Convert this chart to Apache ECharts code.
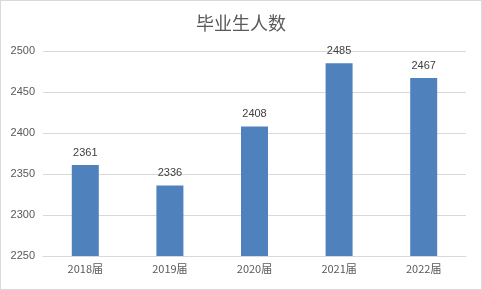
<!DOCTYPE html>
<html><head><meta charset="utf-8">
<script src="https://cdn.jsdelivr.net/npm/echarts@6/dist/echarts.min.js"></script>
<style>html,body{margin:0;padding:0;background:#fff}#c{width:482px;height:290px;box-sizing:border-box;border:1px solid #d9d9d9}</style>
</head><body><div id="c"></div>
<script>
const title = "毕业生人数";
const categories = ["2018届","2019届","2020届","2021届","2022届"];
const values = [2361, 2336, 2408, 2485, 2467];
const yMin = 2250, yMax = 2500, yStep = 50;

const chart = echarts.init(document.getElementById('c'), null, {renderer:'canvas'});
chart.setOption({
  animation:false,
  title:{text:title,left:'center',top:8,textStyle:{fontFamily:'Noto Sans CJK SC',fontSize:18,fontWeight:'normal',color:'#595959'}},
  grid:{left:42,right:15,top:50,bottom:33},
  xAxis:{type:'category',data:categories,
    axisLine:{show:true,lineStyle:{color:'#d9d9d9'}},axisTick:{show:false},
    axisLabel:{color:'#595959',fontSize:11,fontFamily:'Noto Sans CJK SC',margin:7}},
  yAxis:{type:'value',min:yMin,max:yMax,interval:yStep,
    axisLine:{show:false},axisTick:{show:false},
    splitLine:{lineStyle:{color:'#d9d9d9'}},
    axisLabel:{color:'#595959',fontSize:11,fontFamily:'Liberation Sans',margin:8,align:'right',formatter:v=>String(v)}},
  series:[{type:'bar',data:values,barWidth:27,itemStyle:{color:'#4f81bd'},
    label:{show:true,position:'top',distance:7,color:'#404040',fontSize:11,fontFamily:'Liberation Sans'}}]
});
</script></body></html>
